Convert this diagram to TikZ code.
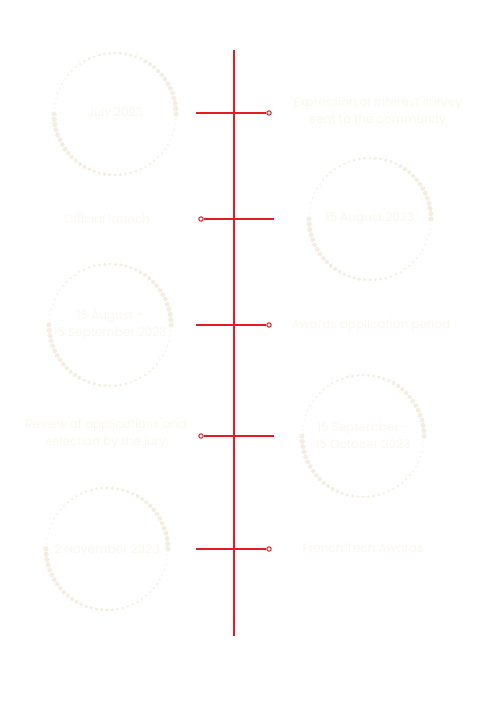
\documentclass[tikz,border=0pt]{standalone}
\usepackage{fontspec}
\setmainfont{Poppins}
\usetikzlibrary{positioning}

\definecolor{timered}{RGB}{226,27,36}
\definecolor{ringdot}{RGB}{244,238,225}
\definecolor{fainttext}{RGB}{250,247,239}

% dotted ring round a named point, dots shrinking like a spinner
\newcommand{\ringdots}[1]{%
	\foreach \t in {0,5,...,355}{%
		\pgfmathsetmacro{\dotr}{0.3+1.05*(1-mod(\t,180)/180)}%
		\fill[ringdot] (#1) ++({-\t}:61) circle[radius=\dotr pt];
	}}

\begin{document}
\begin{tikzpicture}[
		x=0.5pt, y=-0.5pt,
		axis/.style={timered, line width=1pt},
		tick/.style={timered, line width=0.6pt},
		tickend/.style={circle, draw=timered, fill=white, line width=0.5pt, inner sep=0pt, minimum size=2.2pt},
		ring/.style={circle, inner sep=0pt, minimum size=63pt},
		datetext/.style={text=fainttext, font=\fontsize{6}{8.5}\selectfont, align=center},
		eventtext/.style={text=fainttext, font=\fontsize{6}{8.5}\selectfont, align=center}
		]
		
		\useasboundingbox (0,0) rectangle (500,707);
		
		% --- 1. The timeline axis ---
		\coordinate (top) at (234,50);
		\coordinate (bottom) at (234,636);
		\draw[axis] (top) -- (bottom);
		
		% --- 2. The ticks ---
		\coordinate (s1) at (196,113);
		\node[tickend] (d1) at (269,113) {};
		\node[tickend] (d2) at (201,219) {};
		\coordinate (s2) at (274,219);
		\coordinate (s3) at (196,325);
		\node[tickend] (d3) at (269,325) {};
		\node[tickend] (d4) at (201,436) {};
		\coordinate (s4) at (274,436);
		\coordinate (s5) at (196,549);
		\node[tickend] (d5) at (269,549) {};
		
		\draw[tick] (s1) -- (d1);
		\draw[tick] (d2) -- (s2);
		\draw[tick] (s3) -- (d3);
		\draw[tick] (d4) -- (s4);
		\draw[tick] (s5) -- (d5);
		
		% --- 3. The date rings ---
		\node[ring] (r1) at (115,114) {};
		\node[ring] (r2) at (370,219) {};
		\node[ring] (r3) at (110,325) {};
		\node[ring] (r4) at (363,436) {};
		\node[ring] (r5) at (107,549) {};
		\ringdots{r1}
		\ringdots{r2}
		\ringdots{r3}
		\ringdots{r4}
		\ringdots{r5}
		
		\node[datetext] (t1) at (r1) {July 2023};
		\node[datetext] (t2) at (r2) {15 August 2023};
		\node[datetext] (t3) at (r3) {15 August -\\15 September 2023};
		\node[datetext] (t4) at (r4) {15 September -\\15 October 2023};
		\node[datetext] (t5) at (r5) {2 November 2023};
		
		% --- 4. The events ---
		\node[eventtext] (e1) at (378,112) {Expression of Interest survey\\sent to the community};
		\node[eventtext] (e2) at (107,219) {Official launch};
		\node[eventtext] (e3) at (371,325) {Awards application period};
		\node[eventtext] (e4) at (106,434) {Review of applications and\\selection by the jury};
		\node[eventtext] (e5) at (363,548) {French Tech Awards};
		
	\end{tikzpicture}
\end{document}
